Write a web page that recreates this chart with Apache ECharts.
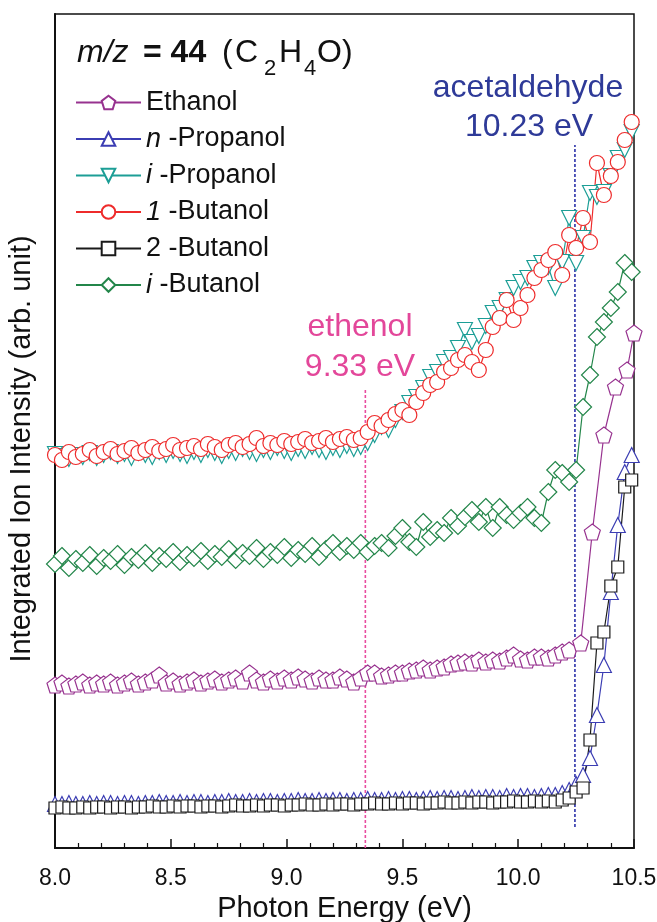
<!DOCTYPE html>
<html>
<head>
<meta charset="utf-8" />
<title>m/z 44 photoionization efficiency</title>
<script src="https://cdn.jsdelivr.net/npm/echarts@6.0.0/dist/echarts.min.js"></script>
<style>
  html, body { margin: 0; padding: 0; background: #fff; }
  #chart { width: 657px; height: 922px; }
</style>
</head>
<body>
<div id="chart"></div>
<script>
// photon energy grid (eV)
var energy = [
  8.00, 8.03, 8.06, 8.09, 8.12, 8.15, 8.18, 8.21, 8.24, 8.27,
  8.30, 8.33, 8.36, 8.39, 8.42, 8.45, 8.48, 8.51, 8.54, 8.57,
  8.60, 8.63, 8.66, 8.69, 8.72, 8.75, 8.78, 8.81, 8.84, 8.87,
  8.90, 8.93, 8.96, 8.99, 9.02, 9.05, 9.08, 9.11, 9.14, 9.17,
  9.20, 9.23, 9.26, 9.29, 9.32, 9.35, 9.38, 9.41, 9.44, 9.47,
  9.50, 9.53, 9.56, 9.59, 9.62, 9.65, 9.68, 9.71, 9.74, 9.77,
  9.80, 9.83, 9.86, 9.89, 9.92, 9.95, 9.98, 10.01, 10.04, 10.07,
  10.10, 10.13, 10.16, 10.19, 10.22, 10.25, 10.28, 10.31, 10.34, 10.37,
  10.40, 10.43, 10.46, 10.49
];
// ethanol is sampled more coarsely above 10.22 eV
var ethanolTailEnergy = [10.27, 10.32, 10.37, 10.42, 10.47, 10.50];

// intensities, arbitrary units (curves are offset vertically)
var ethanol = [
  163, 165, 162, 164, 166, 163, 165, 164, 166, 163,
  165, 167, 164, 166, 168, 173, 165, 167, 164, 166,
  168, 165, 167, 169, 166, 168, 170, 167, 175, 168,
  166, 169, 167, 170, 168, 171, 169, 167, 170, 168,
  168, 171, 169, 166, 170, 175, 175, 172, 173, 175,
  175, 177, 178, 180, 178, 180, 181, 184, 185, 186,
  185, 188, 186, 188, 187, 190, 193, 189, 188, 191,
  191, 190, 193, 196, 198,
  205, 316, 413, 461, 478, 515
];
var nPropanol = [
  44, 44, 45, 44, 44, 45, 44, 45, 45, 44,
  45, 45, 44, 45, 45, 46, 45, 45, 46, 45,
  46, 46, 45, 46, 46, 47, 46, 46, 47, 46,
  47, 47, 46, 47, 47, 48, 47, 47, 48, 47,
  48, 48, 47, 48, 48, 49, 48, 48, 49, 48,
  49, 49, 48, 49, 50, 49, 50, 50, 49, 50,
  51, 50, 51, 51, 50, 52, 51, 52, 52, 51,
  52, 53, 53, 55, 58, 64, 73, 90, 133, 183,
  256, 323, 376, 393
];
var iPropanol = [
  394, 392, 389, 393, 391, 395, 390, 393, 396, 392,
  394, 390, 395, 393, 391, 396, 393, 397, 394, 392,
  396, 393, 398, 395, 392, 397, 395, 399, 396, 394,
  398, 396, 400, 397, 395, 399, 397, 401, 398, 396,
  400, 398, 402, 399, 401, 405, 413, 421, 418, 428,
  436, 445, 451, 460, 471, 476, 486, 490, 500, 518,
  506, 512, 522, 535, 540, 548, 560, 566, 570, 580,
  585, 581, 560, 586, 630, 585, 610, 655, 651, 656,
  672, 690, 698, 716
];
var butanol1 = [
  393, 388, 396, 391, 394, 398, 392, 396, 399, 394,
  397, 400, 395, 398, 401, 397, 399, 403, 398, 400,
  402, 399, 404, 401, 398, 403, 405, 401, 404, 410,
  402, 405, 403, 407, 404, 406, 409, 405, 407, 410,
  406, 409, 411, 408, 410, 416, 425, 422, 428, 434,
  438, 433, 446, 455, 463, 466, 476, 480, 488, 493,
  486, 478, 498, 521, 530, 548, 528, 540, 553, 570,
  578, 588, 596, 573, 613, 600, 630, 606, 685, 653,
  672, 686, 708, 726
];
var butanol2 = [
  40, 41, 40, 40, 41, 40, 41, 41, 40, 41,
  41, 40, 41, 41, 42, 41, 41, 42, 41, 42,
  42, 41, 42, 42, 41, 42, 43, 42, 42, 43,
  42, 43, 43, 42, 43, 43, 44, 43, 43, 44,
  43, 44, 44, 43, 44, 44, 45, 44, 44, 45,
  44, 45, 45, 44, 45, 45, 46, 45, 45, 46,
  45, 46, 46, 45, 46, 46, 47, 46, 46, 47,
  46, 47, 46, 48, 50, 56, 60, 108, 205, 216,
  262, 281, 361, 368
];
var iButanol = [
  284, 292, 280, 289, 285, 293, 282, 290, 287, 294,
  283, 291, 288, 295, 285, 292, 289, 296, 286, 293,
  290, 297, 287, 294, 291, 299, 288, 295, 292, 300,
  289, 296, 293, 301, 290, 298, 294, 302, 291, 299,
  305, 296, 302, 298, 305, 296, 302, 305, 300, 312,
  320, 306, 301, 326, 311, 318, 315, 330, 322, 331,
  338, 326, 341, 320, 341, 333, 328, 335, 341, 330,
  325, 356, 378, 375, 366, 378, 441, 473, 511, 526,
  540, 556, 585, 576
];

// ionization energy markers: [energy, bottom, top]
var ethenolMark = [9.34, 0, 458];
var acetaldehydeMark = [10.245, 21, 703];

var seriesNames = ['Ethanol', 'n-Propanol', 'i-Propanol', '1-Butanol', '2-Butanol', 'i-Butanol'];
var legendLabels = {
  'Ethanol': 'Ethanol',
  'n-Propanol': '{it|n} -Propanol',
  'i-Propanol': '{it|i} -Propanol',
  '1-Butanol': '{it|1} -Butanol',
  '2-Butanol': '2 -Butanol',
  'i-Butanol': '{it|i} -Butanol'
};

var FONT = 'Liberation Sans, Arial, Helvetica, sans-serif';

function zip(xs, ys) {
  var out = [];
  for (var i = 0; i < ys.length; i++) out.push([xs[i], ys[i]]);
  return out;
}

var pentagon = 'path://M0,-10L9.51,-3.09L5.88,8.09L-5.88,8.09L-9.51,-3.09Z';
var downTriangle = 'path://M0,10L-10,-7L10,-7Z';

function curve(name, data, color, symbol, size) {
  return {
    name: name,
    type: 'line',
    data: data,
    symbol: symbol,
    symbolSize: size,
    showAllSymbol: true,
    lineStyle: { color: color, width: 1.2 },
    itemStyle: { color: '#fff', borderColor: color, borderWidth: 1.2 },
    emphasis: { disabled: true }
  };
}

function guide(x, y0, y1, color) {
  return {
    type: 'line',
    data: [[x, y0], [x, y1]],
    symbol: 'none',
    silent: true,
    lineStyle: { color: color, width: 1.6, type: [3, 2] },
    z: 1
  };
}

function label(x, y, str, size, color, opts) {
  opts = opts || {};
  return {
    type: 'text',
    x: x,
    y: y,
    silent: true,
    style: {
      text: str,
      fill: color,
      font: (opts.style || '') + ' ' + size + 'px ' + FONT,
      align: opts.align || 'left',
      verticalAlign: 'middle'
    }
  };
}

var ethanolEnergy = energy.slice(0, 75).concat(ethanolTailEnergy);

var chart = echarts.init(document.getElementById('chart'));
chart.setOption({
  animation: false,
  backgroundColor: '#fff',
  textStyle: { fontFamily: FONT },
  grid: {
    left: 55, right: 23, top: 14, bottom: 74,
    outerBoundsMode: 'none',
    show: true, borderColor: '#111', borderWidth: 1.5
  },
  xAxis: {
    type: 'value',
    min: 8, max: 10.5, interval: 0.5,
    axisLine: { lineStyle: { color: '#111', width: 2 } },
    axisTick: { inside: true, length: 9, lineStyle: { color: '#111', width: 1.5 } },
    minorTick: { show: true, splitNumber: 5, length: 5, lineStyle: { color: '#111', width: 1.2 } },
    splitLine: { show: false },
    axisLabel: {
      color: '#111', fontSize: 23, margin: 19, fontFamily: FONT,
      formatter: function (v) { return v.toFixed(1); }
    },
    name: 'Photon Energy (eV)',
    nameLocation: 'middle',
    nameGap: 44,
    nameTextStyle: { color: '#111', fontSize: 29, fontFamily: FONT }
  },
  yAxis: {
    type: 'value',
    min: 0, max: 834,
    axisLine: { show: true, lineStyle: { color: '#111', width: 2 } },
    axisTick: { show: false },
    axisLabel: { show: false },
    splitLine: { show: false },
    name: 'Integrated Ion Intensity (arb. unit)',
    nameLocation: 'middle',
    nameRotate: 90,
    nameGap: 19,
    nameTextStyle: { color: '#111', fontSize: 29, fontFamily: FONT, padding: [0, 36, 0, 0] }
  },
  legend: {
    data: seriesNames,
    orient: 'vertical',
    left: 75, top: 89, padding: 0,
    itemWidth: 65, itemHeight: 17, itemGap: 9.5,
    selectedMode: false,
    formatter: function (name) { return legendLabels[name]; },
    textStyle: {
      color: '#111', fontSize: 27, lineHeight: 26, fontFamily: FONT,
      rich: { it: { color: '#111', fontSize: 27, lineHeight: 26, fontStyle: 'italic', fontFamily: FONT } }
    }
  },
  series: [
    guide(ethenolMark[0], ethenolMark[1], ethenolMark[2], '#e84da0'),
    guide(acetaldehydeMark[0], acetaldehydeMark[1], acetaldehydeMark[2], '#2a30a8'),
    curve('Ethanol', zip(ethanolEnergy, ethanol), '#97328f', pentagon, 16),
    curve('n-Propanol', zip(energy, nPropanol), '#3b3db3', 'triangle', 15),
    curve('i-Propanol', zip(energy, iPropanol), '#1c9e96', downTriangle, 15),
    curve('1-Butanol', zip(energy, butanol1), '#ee2b2b', 'circle', 15),
    curve('2-Butanol', zip(energy, butanol2), '#1a1a1a', 'rect', 12),
    curve('i-Butanol', zip(energy, iButanol), '#23864a', 'diamond', 17)
  ],
  graphic: [
    label(77, 53, 'm/z', 32, '#111', { style: 'italic' }),
    label(143, 53, '= 44', 32, '#111', { style: 'bold' }),
    label(222, 53, '(', 32, '#111'),
    label(235, 53, 'C', 32, '#111'),
    label(264, 69, '2', 22, '#111'),
    label(279, 53, 'H', 32, '#111'),
    label(304, 69, '4', 22, '#111'),
    label(317, 53, 'O', 32, '#111'),
    label(342, 53, ')', 32, '#111'),
    label(528, 88, 'acetaldehyde', 32, '#2e3a98', { align: 'center' }),
    label(529, 127, '10.23 eV', 32, '#2e3a98', { align: 'center' }),
    label(360, 327, 'ethenol', 32, '#e3479a', { align: 'center' }),
    label(360, 367, '9.33 eV', 32, '#e3479a', { align: 'center' })
  ]
});
</script>
</body>
</html>
